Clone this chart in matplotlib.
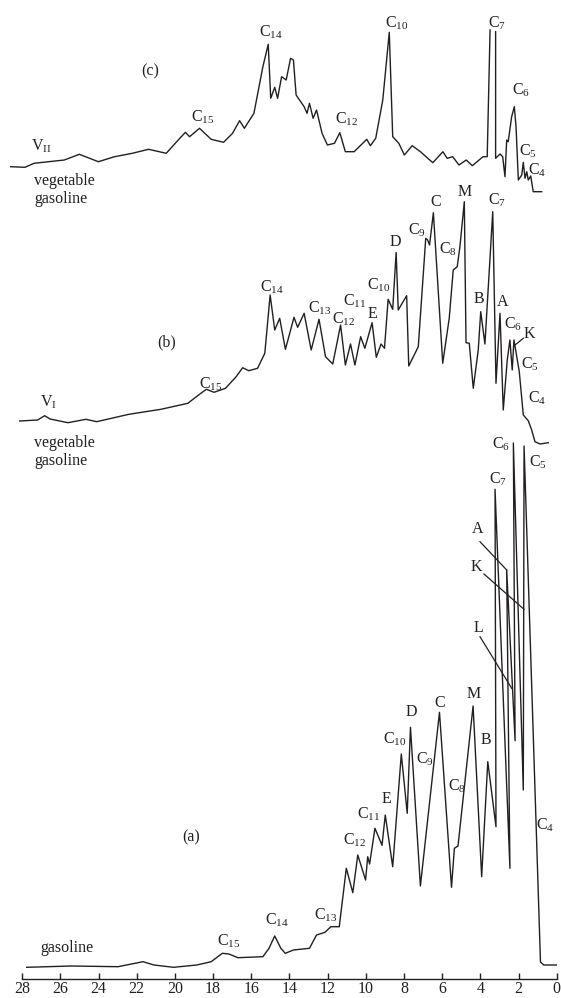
import numpy as np
import matplotlib
matplotlib.use("Agg")
import matplotlib.pyplot as plt
from matplotlib.lines import Line2D

plt.rcParams['font.family'] = ['Liberation Serif', 'DejaVu Serif']
plt.rcParams['mathtext.fontset'] = 'custom'
plt.rcParams['mathtext.rm'] = 'Liberation Serif'
plt.rcParams['mathtext.it'] = 'Liberation Serif:italic'

# ---------------- data: retention time (min) and response ----------------
# (c) vegetable gasoline V_II
t_c = [28.60, 27.85, 27.38, 25.79, 25.00, 24.01, 23.16, 22.23, 21.38, 20.45,
       19.98, 19.45, 19.23, 18.71, 18.10, 17.45, 16.98, 16.61, 16.36, 15.86,
       15.39, 15.11, 14.98, 14.77, 14.62, 14.41, 14.17, 13.94, 13.79, 13.65,
       13.23, 13.08, 12.95, 12.76, 12.58, 12.29, 12.01, 11.64, 11.36, 11.07,
       10.61, 9.95, 9.76, 9.48, 9.11, 8.77, 8.59, 8.27, 7.98, 7.57,
       7.14, 6.49, 5.96, 5.74, 5.45, 5.12, 4.74, 4.42, 3.86, 3.64,
       3.49, 3.35, 3.20, 3.20, 2.97, 2.83, 2.71, 2.62, 2.54, 2.36,
       2.22, 2.13, 2.01, 1.83, 1.75, 1.66, 1.57, 1.49, 1.36, 1.23, 0.79]
s_c = [25.3, 24.7, 28.7, 32, 37.7, 30.3, 35.3, 38.7, 42.7, 38.7,
       48.7, 59.7, 55.3, 63.7, 52.7, 49.7, 58.7, 71.3, 63.7, 78.7,
       125.3, 147.7, 93.7, 104.7, 93.7, 115.3, 112, 133.7, 132, 97,
       85.3, 78.7, 88.7, 73.7, 82, 58.7, 47, 48.7, 59.3, 40.3,
       40.3, 52.7, 46.3, 53.7, 92, 159.7, 55.3, 48.7, 37, 46.3,
       40.3, 29.3, 40.3, 33.7, 35.3, 27, 32, 26.3, 35.3, 35.3,
       162, np.nan, 160.3, 33.7, 38, 35.3, 15.3, 52, 50.3, 75.3,
       85.3, 65.3, 12, 17, 29.7, 13.7, 20.3, 12, 16, 0.3, 0.3]

# (b) vegetable gasoline V_I
t_b = [28.13, 27.19, 26.82, 26.54, 25.60, 24.66, 24.10, 22.41, 20.73, 19.32,
       18.76, 18.35, 17.95, 17.35, 16.79, 16.45, 16.13, 15.67, 15.29, 15.01,
       14.77, 14.51, 14.21, 13.76, 13.57, 13.23, 12.86, 12.45, 12.11, 11.73,
       11.32, 11.07, 10.80, 10.57, 10.27, 10.05, 9.67, 9.45, 9.20, 9.02,
       8.83, 8.59, 8.41, 8.30, 7.86, 7.75, 7.25, 6.86, 6.76, 6.66,
       6.46, 5.97, 5.63, 5.42, 5.21, 5.07, 4.84, 4.75, 4.58, 4.37,
       4.11, 3.98, 3.76, 3.35, 3.18, 2.97, 2.80, 2.59, 2.45, 2.33,
       2.24, 1.96, 1.75, 1.49, 1.31, 1.14, 0.87, 0.44]
s_b = [24, 25, 29.3, 26, 22.3, 25.7, 23.3, 30.7, 35.7, 41.7,
       50, 55.7, 52.7, 56.7, 68.3, 77.3, 74.3, 76.7, 91.7, 150,
       115, 126.7, 95.7, 127.7, 117.7, 131.7, 95, 125.7, 88.3, 81,
       120, 80, 101, 80, 108.3, 96.7, 122.3, 87.7, 101, 96.7,
       145.7, 135.7, 192.5, 135, 149.3, 79, 98.3, 206.7, 205, 200,
       232.3, 81.7, 126.7, 175, 178.3, 198.3, 243.3, 102.3, 101.7, 56.7,
       95, 133.3, 101, 233.3, 61.7, 131.7, 35, 85, 105, 75,
       105, 73.3, 30, 24.3, 15, 3.3, 1, 2.3]

# (a) gasoline
t_a = [27.76, 25.41, 22.98, 21.67, 21.10, 20.07, 18.85, 18.10, 17.51, 17.17,
       16.70, 15.39, 15.07, 14.77, 14.45, 14.22, 13.79, 12.95, 12.58, 12.14,
       11.83, 11.39, 11.02, 10.68, 10.42, 10.01, 9.90, 9.80, 9.52, 9.15,
       8.98, 8.59, 8.14, 7.83, 7.66, 7.14, 6.14, 5.51, 5.36, 5.17,
       4.38, 3.93, 3.61, 3.18, 3.23, 2.45, 2.62, 2.18, 2.27, 1.75,
       1.71, 0.85, 0.68, 0.02]
s_a = [-0.3, 1, 0.3, 5.3, 2, -0.3, 2, 5.3, 13.7, 13,
       9.3, 10.3, 18.7, 31, 18.7, 13.7, 17, 18.7, 32, 34.7,
       40.3, 40.3, 98.7, 74.3, 112, 87, 110.3, 103, 138.7, 121.7,
       152, 100.3, 213, 153.7, 239.7, 81, 254.7, 79.7, 118.7, 121,
       261, 90.3, 205.3, 140.3, 477.7, 98.7, 397, 226.3, 524, 177,
       521, 5, 2, 2]

tick_values = list(range(0, 29, 2))

# ---------------- layout ----------------
W, H = 561, 998
ink = '#231f20'
FS = 11.5
base = {'a': 31, 'b': 553, 'c': 806}   # vertical offsets of the three traces

fig = plt.figure(figsize=(W / 100, H / 100), dpi=100)
ax = fig.add_axes([0, 0, 1, 1])
ax.set_xlim(29.16, -0.225)
ax.set_ylim(0, H)

for t, s, k in ((t_c, s_c, 'c'), (t_b, s_b, 'b'), (t_a, s_a, 'a')):
    ax.plot(t, np.asarray(s, dtype=float) + base[k], color=ink, lw=1.0)

for side in ('top', 'right', 'left'):
    ax.spines[side].set_visible(False)
ax.spines['bottom'].set_position(('data', 19.3))
ax.spines['bottom'].set_bounds(0, 28)
ax.spines['bottom'].set_color(ink)
ax.spines['bottom'].set_linewidth(1.0)
ax.set_yticks([])
ax.set_xticks(tick_values)
ax.set_xticklabels([str(v) for v in tick_values])
ax.tick_params(axis='x', direction='in', length=4.5, width=1.0, color=ink,
               labelsize=FS, labelcolor=ink, pad=2)
ax.patch.set_alpha(0)


def C(n):
    return r'C$_{\mathrm{%s}}$' % n


# labels: (text, x-centre px, y-centre px)
labels = [
    ('(c)', 150.3, 70), (C(14), 270.8, 31.7), (C(10), 397.1, 22.7),
    (C(7), 497.3, 22.7), (C(6), 520.6, 89.3), (C(15), 203.2, 116.7),
    (C(12), 346.3, 118.3), (C(5), 527.7, 150.7), (C(4), 536.7, 169.3),
    (r'V$_{\mathrm{II}}$', 41.1, 145.7),
    # (b)
    ('C', 436, 200.7), ('M', 465, 190.7), (C(7), 496.7, 200),
    (C(9), 416.7, 230), (C(8), 448.3, 248.3), ('D', 395, 240.7),
    (C(10), 378.3, 285), ('E', 372.7, 313.3), ('B', 479.3, 298.3),
    ('A', 502.7, 300.7), (C(6), 513.3, 323.3), ('K', 529.3, 332.7),
    (C(5), 530, 364), (C(4), 536.7, 397.3), (C(14), 271.9, 286.7),
    (C(13), 320.2, 307.3), (C(11), 354.5, 301), (C(12), 343.5, 318.5),
    ('(b)', 166.4, 341.7), (C(15), 211.1, 384), (r'V$_{\mathrm{I}}$', 48.3, 401.7),
    # (a)
    (C(6), 500.7, 443.3), (C(5), 538.3, 461.7), (C(7), 498.3, 478.3),
    ('A', 477.3, 528.3), ('K', 476.7, 566), ('L', 478.3, 626.7),
    ('M', 473.3, 693.3), ('C', 439.3, 701.7), ('D', 411.7, 710.7),
    (C(10), 395, 738.3), ('B', 486, 739.3), (C(9), 425, 758.3),
    (C(8), 456.7, 786), ('E', 386, 798.3), (C(4), 545, 825),
    (C(11), 368.3, 814), (C(12), 355, 840), ('(a)', 191.4, 836.7),
    (C(13), 326, 915), (C(14), 276.7, 919.3), (C(15), 228.3, 940.7),
]
for txt, px, py in labels:
    fig.text(px / W, 1 - (py + 5) / H, txt, ha='center', va='baseline',
             fontsize=FS, color=ink)

# left-aligned sample names (x-left px, baseline px)
names = [('vegetable', 34, 185), ('gasoline', 34, 203.3),
         ('vegetable', 34, 446.7), ('gasoline', 34, 465),
         ('gasoline', 40, 952.3)]
for txt, px, py in names:
    fig.text(px / W, 1 - py / H, txt, ha='left', va='baseline',
             fontsize=FS, color=ink)

# leader lines
leaders = [((523.3, 338.3), (515, 345)),
           ((480, 541.7), (506.7, 570)),
           ((484, 574), (524, 609.3)),
           ((480, 636.7), (511.7, 688.3))]
for (x1, y1), (x2, y2) in leaders:
    fig.add_artist(Line2D([x1 / W, x2 / W], [1 - y1 / H, 1 - y2 / H],
                          transform=fig.transFigure, color=ink, lw=0.9))

fig.savefig('out.png', dpi=100)
